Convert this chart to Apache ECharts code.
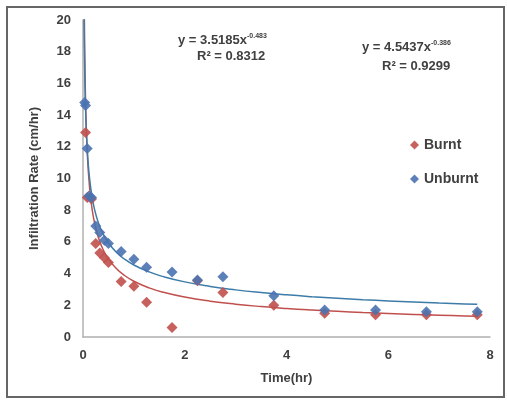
<!DOCTYPE html>
<html><head><meta charset="utf-8">
<script src="https://cdn.jsdelivr.net/npm/echarts@6/dist/echarts.min.js"></script>
<style>html,body{margin:0;padding:0;background:#fff}#c{width:507px;height:400px}</style>
</head><body><div id="c"></div>
<script>
// Data (time in hr, infiltration rate in cm/hr)
const burntTime = [0.05, 0.083, 0.167, 0.25, 0.33, 0.42, 0.5, 0.75, 1.0, 1.25, 1.75, 2.25, 2.75, 3.75, 4.75, 5.75, 6.75, 7.75];
const burntRate = [12.9, 8.8, 8.7, 5.9, 5.3, 5.0, 4.7, 3.5, 3.2, 2.2, 0.6, 3.55, 2.8, 2.0, 1.5, 1.4, 1.4, 1.4];
const unburntTime = [0.033, 0.05, 0.083, 0.117, 0.167, 0.25, 0.33, 0.42, 0.5, 0.75, 1.0, 1.25, 1.75, 2.25, 2.75, 3.75, 4.75, 5.75, 6.75, 7.75];
const unburntRate = [14.8, 14.6, 11.9, 8.9, 8.8, 7.0, 6.6, 6.1, 5.9, 5.4, 4.9, 4.4, 4.1, 3.6, 3.8, 2.6, 1.7, 1.7, 1.6, 1.6];
// Power trendline coefficients (y = a * x^b), from chart labels
const burntFit = [3.5185, -0.483];
const unburntFit = [4.5437, -0.386];
const fitTimes = [0.017, 0.02, 0.025, 0.03, 0.04, 0.05, 0.06, 0.08, 0.1, 0.13, 0.17, 0.22, 0.3, 0.4, 0.5, 0.65, 0.8, 1.0, 1.3, 1.6, 2.0, 2.5, 3.0, 3.5, 4.0, 4.5, 5.0, 5.5, 6.0, 6.5, 7.0, 7.5, 7.75];
const xTicks = [0, 2, 4, 6, 8];
const yTicks = [0, 2, 4, 6, 8, 10, 12, 14, 16, 18, 20];

const zip = (a, b) => a.map((v, i) => [v, b[i]]);
const fit = (c) => fitTimes.map(t => [t, c[0] * Math.pow(t, c[1])]);

const RED = '#c0504d', BLUE = '#4a72b0';
const txt = '#404040';
const chart = echarts.init(document.getElementById('c'));
chart.setOption({
  animation: false,
  backgroundColor: '#fff',
  grid: { left: 83, right: 17, top: 20, bottom: 63 },
  xAxis: {
    type: 'value', min: xTicks[0], max: xTicks[xTicks.length - 1], interval: 2,
    name: 'Time(hr)', nameLocation: 'middle', nameGap: 35,
    nameTextStyle: { color: txt, fontSize: 13, fontWeight: 'bold', fontFamily: 'Liberation Sans' },
    axisLine: { lineStyle: { color: '#b0b0b0', width: 1.5 } },
    axisTick: { show: false },
    axisLabel: { color: txt, fontSize: 13, fontWeight: 'bold', fontFamily: 'Liberation Sans', margin: 12 },
    splitLine: { show: false }
  },
  yAxis: {
    type: 'value', min: yTicks[0], max: yTicks[yTicks.length - 1], interval: 2,
    name: 'Infiltration Rate (cm/hr)', nameLocation: 'middle', nameGap: 42,
    nameTextStyle: { color: txt, fontSize: 13, fontWeight: 'bold', fontFamily: 'Liberation Sans' },
    axisLine: { show: true, lineStyle: { color: '#b0b0b0', width: 1.5 } },
    axisTick: { show: false },
    axisLabel: { color: txt, fontSize: 13, fontWeight: 'bold', fontFamily: 'Liberation Sans', margin: 12 },
    splitLine: { show: false }
  },
  legend: {
    data: ['Burnt', 'Unburnt'], orient: 'vertical', left: 405, top: 133, itemGap: 20,
    itemWidth: 9, itemHeight: 9,
    textStyle: { color: txt, fontSize: 14, fontWeight: 'bold', fontFamily: 'Liberation Sans' }
  },
  graphic: [
    { type: 'rect', shape: { x: 7, y: 7, width: 497, height: 390 }, style: { fill: 'none', stroke: '#666', lineWidth: 2 }, silent: true },
    { type: 'text', left: 178, top: 33, style: { rich: { a: { fontSize: 13, fontWeight: 'bold', fill: txt, fontFamily: 'Liberation Sans' }, s: { fontSize: 7, fontWeight: 'bold', fill: txt, verticalAlign: 'top', padding: [0,0,8,0] } }, text: '{a|y = 3.5185x}{s|-0.483}' } },
    { type: 'text', left: 197, top: 50, style: { text: 'R² = 0.8312', fontSize: 13, fontWeight: 'bold', fill: txt, fontFamily: 'Liberation Sans' } },
    { type: 'text', left: 362, top: 40, style: { rich: { a: { fontSize: 13, fontWeight: 'bold', fill: txt, fontFamily: 'Liberation Sans' }, s: { fontSize: 7, fontWeight: 'bold', fill: txt, verticalAlign: 'top', padding: [0,0,8,0] } }, text: '{a|y = 4.5437x}{s|-0.386}' } },
    { type: 'text', left: 382, top: 60, style: { text: 'R² = 0.9299', fontSize: 13, fontWeight: 'bold', fill: txt, fontFamily: 'Liberation Sans' } }
  ],
  series: [
    { name: 'Burnt fit', type: 'line', data: fit(burntFit), showSymbol: false, smooth: true, clip: true,
      lineStyle: { color: RED, width: 1.5 }, z: 1 },
    { name: 'Unburnt fit', type: 'line', data: fit(unburntFit), showSymbol: false, smooth: true, clip: true,
      lineStyle: { color: '#3d7ca8', width: 1.5 }, z: 1 },
    { name: 'Burnt', type: 'scatter', data: zip(burntTime, burntRate), symbol: 'diamond', symbolSize: 11,
      itemStyle: { color: RED, opacity: 0.9 }, z: 2 },
    { name: 'Unburnt', type: 'scatter', data: zip(unburntTime, unburntRate), symbol: 'diamond', symbolSize: 11,
      itemStyle: { color: BLUE, opacity: 0.9 }, z: 3 }
  ]
});
</script></body></html>
